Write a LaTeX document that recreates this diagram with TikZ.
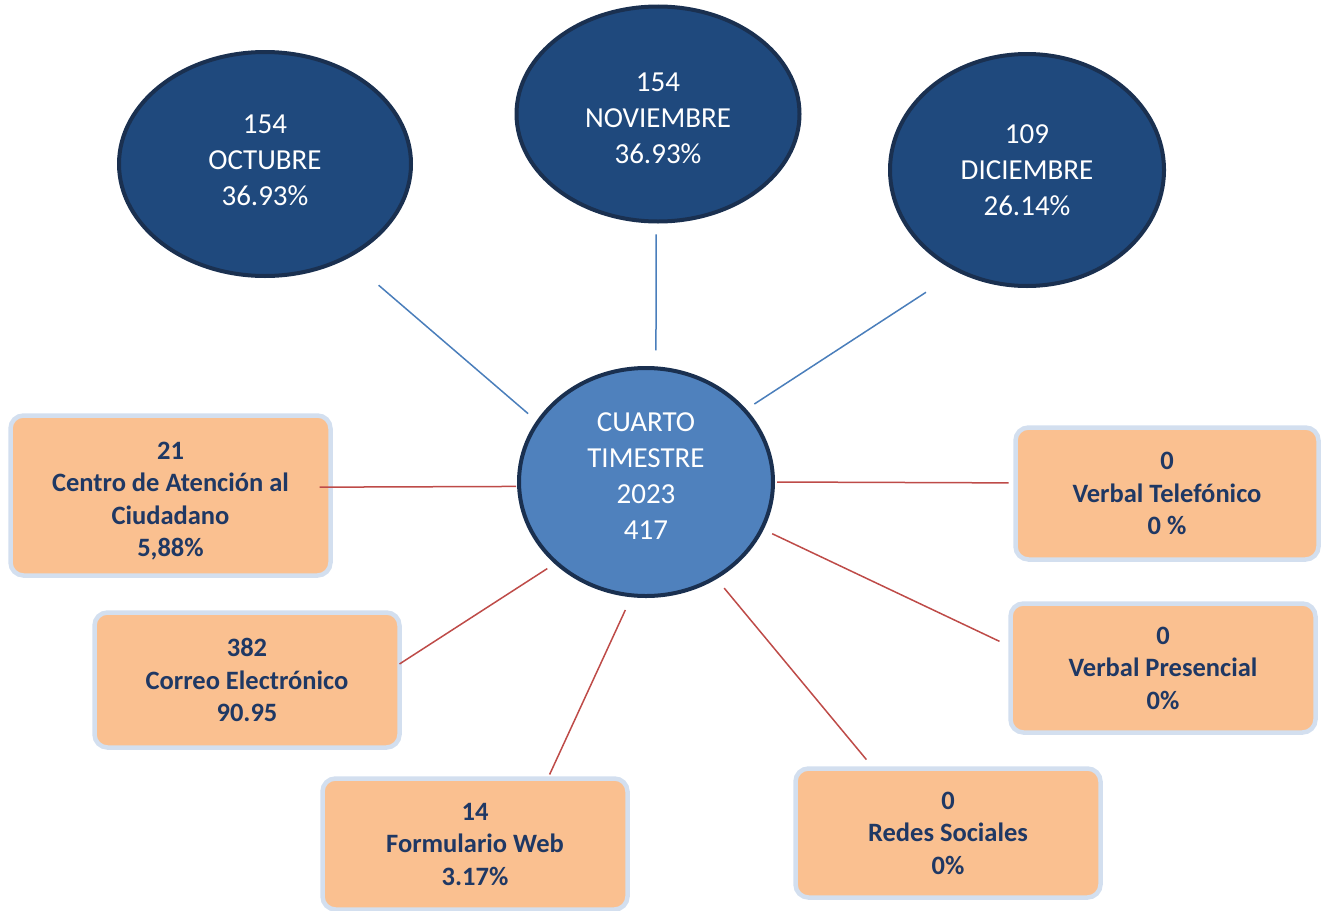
\documentclass[tikz,border=0pt]{standalone}
\usepackage{fontspec}
\setmainfont{Carlito}
\usetikzlibrary{shapes.geometric}
\definecolor{mesfill}{HTML}{1F497D}
\definecolor{mesline}{HTML}{1A3050}
\definecolor{cenfill}{HTML}{4F81BD}
\definecolor{boxfill}{HTML}{FAC090}
\definecolor{boxglow}{HTML}{D3DFEF}
\definecolor{boxtext}{HTML}{1F3864}
\definecolor{blueline}{HTML}{4A7EBB}
\definecolor{redline}{HTML}{BE4B48}

\begin{document}
\begin{tikzpicture}[x=1pt, y=-1pt,
    mes/.style ={ellipse, draw=mesline, line width=4pt, fill=mesfill, inner sep=0pt, outer sep=0pt,
      text=white, align=center, font=\fontsize{29}{36}\selectfont},
    total/.style ={mes, fill=cenfill},
    canal/.style ={rectangle, rounded corners=13pt, draw=boxglow, line width=4.5pt, fill=boxfill,
      inner sep=0pt, outer sep=0pt, text=boxtext, align=center,
      font=\fontsize{26.5}{32.5}\selectfont\bfseries},
    mesedge/.style ={draw=blueline, line width=1.5pt},
    canaledge/.style ={draw=redline, line width=1.5pt}]
   \useasboundingbox (0,0) rectangle (1321,910);

   \node[mes, minimum width=292pt, minimum height=224pt, text depth=7.5pt] (oct) at (265,164) {154\\OCTUBRE\\36.93\%};
   \node[mes, minimum width=283pt, minimum height=215pt] (nov) at (658,114) {\rule{0pt}{26.5pt}154\\NOVIEMBRE\\36.93\%};
   \node[mes, minimum width=274pt, minimum height=232pt] (dic) at (1027,170) {109\\DICIEMBRE\\26.14\%};
   \node[total, minimum width=254pt, minimum height=228pt, text depth=12pt] (cen) at (646,482) {CUARTO\\TIMESTRE\\2023\\417};

   \node[canal, minimum width=320pt, minimum height=160pt] (cac) at (170.5,495.5) {\rule{0pt}{29pt}21\\Centro de Atención al\\Ciudadano\\5,88\%};
   \node[canal, minimum width=305pt, minimum height=135pt] (cor) at (247,680) {382\\Correo Electrónico\\90.95};
   \node[canal, minimum width=305pt, minimum height=131pt] (frm) at (475,844) {14\\Formulario Web\\3.17\%};
   \node[canal, minimum width=305pt, minimum height=129pt] (red) at (948,833) {0\\Redes Sociales\\0\%};
   \node[canal, minimum width=305pt, minimum height=129pt] (vp) at (1163,668) {0\\Verbal Presencial\\0\%};
   \node[canal, minimum width=303pt, minimum height=132pt] (vt) at (1167,493.5) {0\\Verbal Telefónico\\0 \%};

   \draw[mesedge, shorten <=43pt, shorten >=13pt] (oct.-49.4) -- (cen.151.2);
   \draw[mesedge, shorten <=13pt, shorten >=18pt] (nov.-91) -- (cen.85);
   \draw[mesedge, shorten <=39.5pt, shorten >=11.5pt] (dic.236) -- (cen.36);

   \draw[canaledge, shorten <=-11pt, shorten >=3pt] (cac.3.7) -- (cen.182.2);
   \draw[canaledge, shorten <=10.8pt] (cen.222.8) -- (cor.6.3);
   \draw[canaledge, shorten <=16.2pt, shorten >=4.4pt] (cen.-97) -- (frm.42.9);
   \draw[canaledge, shorten <=13.8pt, shorten >=11.6pt] (cen.-54.2) -- (red.139.6);
   \draw[canaledge, shorten <=11.5pt, shorten >=12.2pt] (cen.-22.8) -- (vp.172.8);
   \draw[canaledge, shorten <=4pt, shorten >=7pt] (cen.0) -- (vt.176.5);
 \end{tikzpicture}
\end{document}
